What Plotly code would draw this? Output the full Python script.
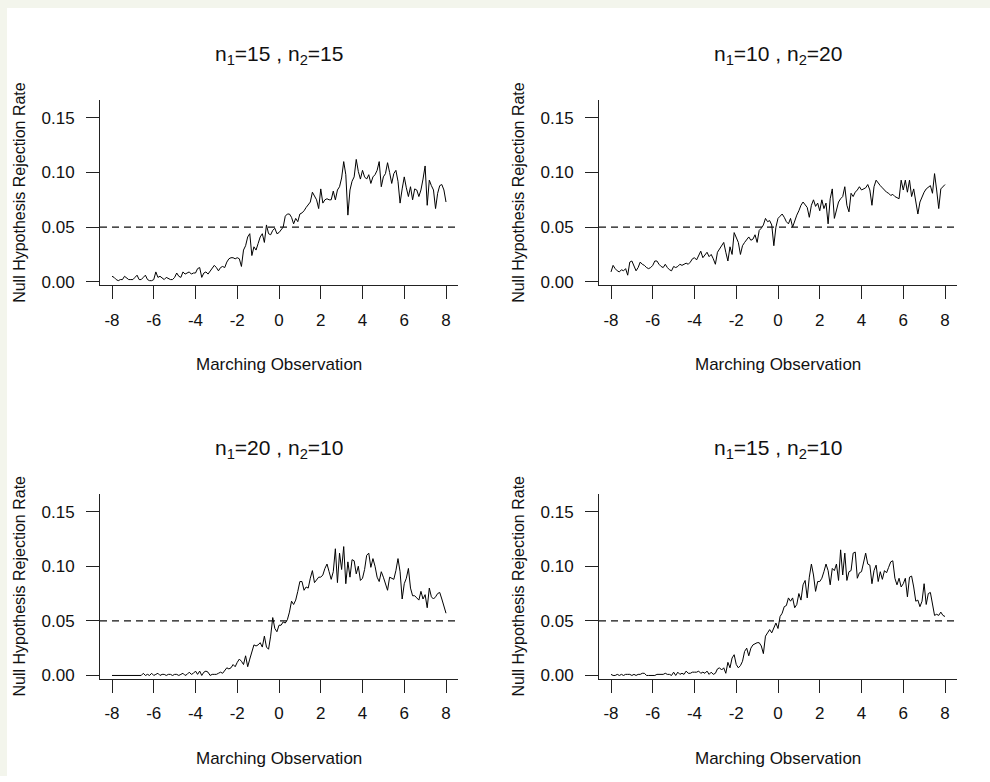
import plotly.graph_objects as go

# x grid: marching observation from -8 to 8 in steps of 0.1
marching_obs = [round(-8 + 0.1 * i, 1) for i in range(161)]

rate_15_15 = [
    0.005, 0.004, 0.002, 0.001, 0.002, 0.002, 0.005, 0.003, 0.002, 0.002,
    0.002, 0.004, 0.006, 0.002, 0.002, 0.004, 0.006, 0.002, 0.001, 0.001,
    0.002, 0.009, 0.004, 0.005, 0.003, 0.002, 0.004, 0.003, 0.002, 0.002,
    0.004, 0.008, 0.005, 0.004, 0.009, 0.007, 0.008, 0.009, 0.007, 0.008,
    0.008, 0.012, 0.013, 0.004, 0.008, 0.009, 0.007, 0.010, 0.012, 0.015,
    0.013, 0.010, 0.013, 0.014, 0.013, 0.018, 0.021, 0.022, 0.022, 0.021,
    0.022, 0.021, 0.014, 0.029, 0.033, 0.041, 0.044, 0.024, 0.032, 0.029,
    0.035, 0.041, 0.044, 0.036, 0.052, 0.044, 0.043, 0.047, 0.049, 0.044,
    0.045, 0.048, 0.050, 0.060, 0.062, 0.062, 0.059, 0.053, 0.058, 0.055,
    0.062, 0.063, 0.065, 0.068, 0.070, 0.073, 0.082, 0.078, 0.075, 0.067,
    0.085, 0.072, 0.075, 0.076, 0.075, 0.075, 0.083, 0.075, 0.084, 0.087,
    0.095, 0.110, 0.098, 0.061, 0.084, 0.092, 0.096, 0.112, 0.101, 0.094,
    0.102, 0.096, 0.094, 0.098, 0.090, 0.096, 0.098, 0.102, 0.110, 0.087,
    0.096, 0.099, 0.109, 0.100, 0.090, 0.099, 0.102, 0.092, 0.072, 0.085,
    0.096, 0.086, 0.078, 0.087, 0.075, 0.085, 0.084, 0.078, 0.084, 0.094,
    0.106, 0.070, 0.093, 0.088, 0.084, 0.067, 0.081, 0.088, 0.089, 0.084,
    0.073,
]

rate_10_20 = [
    0.009, 0.015, 0.012, 0.010, 0.009, 0.011, 0.010, 0.012, 0.006, 0.018,
    0.019, 0.014, 0.010, 0.013, 0.018, 0.016, 0.015, 0.013, 0.012, 0.013,
    0.015, 0.019, 0.019, 0.016, 0.014, 0.013, 0.016, 0.013, 0.011, 0.010,
    0.014, 0.013, 0.014, 0.016, 0.015, 0.016, 0.017, 0.016, 0.018, 0.021,
    0.022, 0.020, 0.024, 0.028, 0.022, 0.025, 0.027, 0.023, 0.025, 0.021,
    0.016, 0.027, 0.030, 0.032, 0.036, 0.027, 0.019, 0.032, 0.025, 0.045,
    0.041, 0.036, 0.025, 0.033, 0.036, 0.039, 0.041, 0.038, 0.039, 0.043,
    0.036, 0.047, 0.049, 0.052, 0.058, 0.055, 0.056, 0.052, 0.033, 0.050,
    0.058, 0.060, 0.062, 0.059, 0.055, 0.053, 0.058, 0.050, 0.056, 0.061,
    0.065, 0.070, 0.073, 0.070, 0.068, 0.059, 0.070, 0.075, 0.069, 0.072,
    0.065, 0.075, 0.067, 0.072, 0.053, 0.076, 0.085, 0.058, 0.067, 0.073,
    0.076, 0.078, 0.087, 0.070, 0.064, 0.081, 0.078, 0.082, 0.084, 0.087,
    0.084, 0.085, 0.086, 0.089, 0.084, 0.070, 0.087, 0.093, 0.090, 0.088,
    0.086, 0.084, 0.082, 0.081, 0.079, 0.080, 0.078, 0.077, 0.076, 0.093,
    0.084, 0.093, 0.082, 0.093, 0.078, 0.085, 0.073, 0.062, 0.073, 0.078,
    0.082, 0.085, 0.087, 0.088, 0.081, 0.099, 0.084, 0.067, 0.085, 0.087,
    0.089,
]

rate_20_10 = [
    0.000, 0.000, 0.000, 0.000, 0.000, 0.000, 0.000, 0.000, 0.000, 0.000,
    0.000, 0.000, 0.000, 0.000, 0.000, 0.002, 0.000, 0.001, 0.000, 0.002,
    0.000, 0.001, 0.002, 0.000, 0.001, 0.001, 0.000, 0.001, 0.001, 0.000,
    0.001, 0.001, 0.000, 0.001, 0.002, 0.000, 0.001, 0.003, 0.001, 0.002,
    0.004, 0.001, 0.004, 0.000, 0.003, 0.004, 0.003, 0.000, 0.001, 0.001,
    0.001, 0.002, 0.003, 0.002, 0.005, 0.007, 0.006, 0.007, 0.010, 0.008,
    0.012, 0.015, 0.013, 0.010, 0.018, 0.008, 0.015, 0.022, 0.028, 0.027,
    0.028, 0.030, 0.026, 0.036, 0.026, 0.024, 0.036, 0.053, 0.043, 0.040,
    0.046, 0.046, 0.049, 0.048, 0.051, 0.058, 0.068, 0.065, 0.069, 0.077,
    0.086, 0.086, 0.078, 0.081, 0.080, 0.089, 0.096, 0.085, 0.088, 0.090,
    0.090, 0.092, 0.098, 0.102, 0.095, 0.088, 0.095, 0.116, 0.085, 0.112,
    0.097, 0.118, 0.084, 0.104, 0.090, 0.106, 0.105, 0.093, 0.100, 0.087,
    0.089, 0.097, 0.110, 0.112, 0.099, 0.107, 0.100, 0.090, 0.086, 0.095,
    0.090, 0.083, 0.078, 0.090, 0.089, 0.088, 0.096, 0.107, 0.095, 0.070,
    0.084, 0.089, 0.098, 0.080, 0.073, 0.073, 0.071, 0.069, 0.077, 0.070,
    0.074, 0.062, 0.080, 0.072, 0.070, 0.072, 0.075, 0.076, 0.070, 0.063,
    0.057,
]

rate_15_10 = [
    0.001, 0.000, 0.000, 0.001, 0.000, 0.001, 0.000, 0.001, 0.001, 0.001,
    0.000, 0.001, 0.000, 0.001, 0.001, 0.002, 0.002, 0.000, 0.000, 0.000,
    0.000, 0.000, 0.001, 0.001, 0.001, 0.001, 0.002, 0.001, 0.001, 0.000,
    0.003, 0.000, 0.003, 0.001, 0.002, 0.001, 0.004, 0.002, 0.002, 0.003,
    0.003, 0.003, 0.004, 0.002, 0.003, 0.002, 0.004, 0.001, 0.003, 0.001,
    0.002, 0.006, 0.007, 0.005, 0.007, 0.002, 0.012, 0.007, 0.016, 0.019,
    0.010, 0.007, 0.009, 0.013, 0.022, 0.025, 0.018, 0.025, 0.028, 0.029,
    0.030, 0.030, 0.027, 0.020, 0.036, 0.039, 0.042, 0.039, 0.044, 0.048,
    0.043, 0.054, 0.057, 0.063, 0.064, 0.071, 0.068, 0.071, 0.062, 0.065,
    0.075, 0.069, 0.083, 0.087, 0.071, 0.090, 0.102, 0.092, 0.077, 0.086,
    0.086, 0.089, 0.095, 0.102, 0.096, 0.083, 0.098, 0.096, 0.102, 0.087,
    0.115, 0.092, 0.112, 0.087, 0.095, 0.096, 0.112, 0.113, 0.089, 0.094,
    0.095, 0.105, 0.112, 0.102, 0.101, 0.084, 0.096, 0.101, 0.086, 0.095,
    0.088, 0.096, 0.094, 0.099, 0.104, 0.105, 0.089, 0.083, 0.089, 0.081,
    0.084, 0.089, 0.072, 0.090, 0.091, 0.081, 0.068, 0.069, 0.063, 0.068,
    0.084, 0.065, 0.075, 0.076, 0.065, 0.055, 0.056, 0.055, 0.058, 0.055,
    0.054,
]

panel_titles = [
    "n<sub>1</sub>=15 , n<sub>2</sub>=15",
    "n<sub>1</sub>=10 , n<sub>2</sub>=20",
    "n<sub>1</sub>=20 , n<sub>2</sub>=10",
    "n<sub>1</sub>=15 , n<sub>2</sub>=10",
]
series = [rate_15_15, rate_10_20, rate_20_10, rate_15_10]
x_ticks = [-8, -6, -4, -2, 0, 2, 4, 6, 8]
y_ticks = [0.0, 0.05, 0.10, 0.15]
y_tick_text = ["0.00", "0.05", "0.10", "0.15"]
reference_level = 0.05
x_title = "Marching Observation"
y_title = "Null Hypothesis Rejection Rate"

W, H = 990, 782
YS = 0.988  # empirical vertical correction of the rendered page
FONT = "Liberation Sans, Arial, sans-serif"


def fy(px):
    """pixel row (from top) -> paper fraction"""
    return 1 - (px / YS) / H


# panel plot regions in pixels: (left, right, top, bottom)
regions = [(100, 458, 100, 284), (599, 957, 100, 284),
           (100, 458, 492, 676), (599, 957, 492, 676)]

fig = go.Figure()
annotations = []
shapes = []

for k, (vals, title, reg) in enumerate(zip(series, panel_titles, regions)):
    l, r, t, b = reg
    xa = "xaxis" if k == 0 else f"xaxis{k+1}"
    ya = "yaxis" if k == 0 else f"yaxis{k+1}"
    xr = "x" if k == 0 else f"x{k+1}"
    yr = "y" if k == 0 else f"y{k+1}"
    fig.add_trace(go.Scatter(x=marching_obs, y=vals, mode="lines",
                             line=dict(color="black", width=1),
                             xaxis=xr, yaxis=yr, showlegend=False,
                             hoverinfo="skip"))
    fig.update_layout(**{
        xa: dict(domain=[l / W, r / W], range=[-8.575, 8.575],
                 anchor=yr, showgrid=False, zeroline=False,
                 showline=True, linecolor="#222", linewidth=1,
                 ticks="outside", ticklen=13, tickwidth=1, tickcolor="#222",
                 tickvals=x_ticks, ticktext=[str(v) for v in x_ticks],
                 tickfont=dict(family=FONT, size=17, color="#111"),
                 ticklabelstandoff=6, fixedrange=True),
        ya: dict(domain=[fy(b), fy(t)], range=[-0.0032, 0.1660],
                 anchor=xr, showgrid=False, zeroline=False,
                 showline=True, linecolor="#222", linewidth=1,
                 ticks="outside", ticklen=13, tickwidth=1, tickcolor="#222",
                 tickvals=y_ticks, ticktext=y_tick_text,
                 tickfont=dict(family=FONT, size=17, color="#111"),
                 ticklabelstandoff=8, fixedrange=True),
    })
    shapes.append(dict(type="line", xref=f"{xr} domain", yref=yr,
                       x0=0, x1=1, y0=reference_level, y1=reference_level,
                       line=dict(color="#111", width=1.2, dash="7px,5px")))
    cx = (l + r) / 2 / W
    annotations.append(dict(text=title, x=cx, y=fy(t - 45),
                            xref="paper", yref="paper", showarrow=False,
                            font=dict(family=FONT, size=21, color="#111"),
                            xanchor="center", yanchor="middle"))
    annotations.append(dict(text=x_title, x=cx, y=fy(b + 79),
                            xref="paper", yref="paper", showarrow=False,
                            font=dict(family=FONT, size=17, color="#111"),
                            xanchor="center", yanchor="middle"))
    annotations.append(dict(text=y_title, x=(l - 80) / W,
                            y=fy((t + b) / 2), xref="paper",
                            yref="paper", showarrow=False, textangle=-90,
                            font=dict(family=FONT, size=16, color="#111"),
                            xanchor="center", yanchor="middle"))

# light outer frame strips
shapes.append(dict(type="rect", xref="paper", yref="paper", x0=0, x1=1,
                   y0=fy(8), y1=1, fillcolor="#f3f5ec", line_width=0,
                   layer="below"))
shapes.append(dict(type="rect", xref="paper", yref="paper", x0=0, x1=7 / W,
                   y0=0, y1=1, fillcolor="#f3f5ec", line_width=0,
                   layer="below"))

fig.update_layout(width=W, height=H, margin=dict(l=0, r=0, t=0, b=0),
                  paper_bgcolor="white", plot_bgcolor="white",
                  annotations=annotations, shapes=shapes,
                  font=dict(family=FONT))
fig.write_html("out.html", config={"displayModeBar": False})
